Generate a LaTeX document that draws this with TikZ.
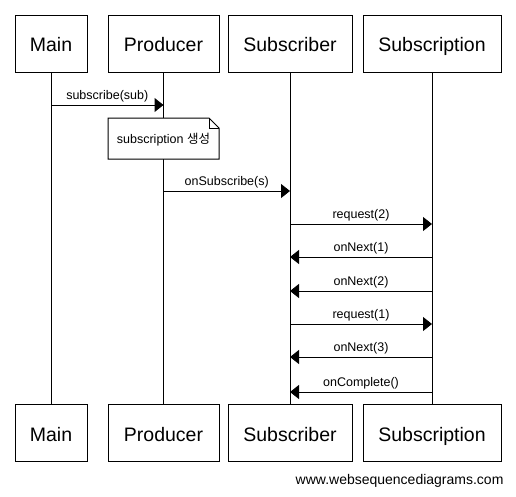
\documentclass[tikz,border=0pt]{standalone}
\usepackage{fontspec}
\setmainfont{Liberation Sans}
\newfontfamily\krfont{Noto Sans CJK KR}
\usetikzlibrary{arrows.meta}

\tikzset{
  actor/.style={draw, line width=1pt, minimum height=57pt, inner sep=0pt,
    text height=20pt, text depth=4pt, font=\fontsize{19.5}{22}\selectfont},
  lifeline/.style={line width=1pt},
  msg/.style={line width=1pt, -{Triangle[length=9pt,width=14pt]}},
  msglabel/.style={font=\fontsize{12.5}{14}\selectfont, inner sep=1pt, above=1pt},
}

\begin{document}
\begin{tikzpicture}[x=1pt, y=-1pt]
\useasboundingbox (0,0) rectangle (516,496);
% participants, top and bottom
\node[actor, minimum width=72pt]  (mainT) at (51,43.5)    {Main};
\node[actor, minimum width=111pt] (prodT) at (163.5,43.5) {Producer};
\node[actor, minimum width=124pt] (subT)  at (290,43.5)   {Subscriber};
\node[actor, minimum width=138pt] (subnT) at (432,43.5)   {Subscription};
\node[actor, minimum width=72pt]  (mainB) at (51,433)     {Main};
\node[actor, minimum width=111pt] (prodB) at (163.5,433)  {Producer};
\node[actor, minimum width=124pt] (subB)  at (290,433)    {Subscriber};
\node[actor, minimum width=138pt] (subnB) at (432,433)    {Subscription};
% lifelines
\draw[lifeline] (mainT) -- (mainB);
\draw[lifeline] (prodT) -- (prodB);
\draw[lifeline] (subT) -- (subB);
\draw[lifeline] (subnT) -- (subnB);
% note
\draw[line width=1pt, fill=white] (108,118) -- (209,118) -- (219,128) -- (219,159) -- (108,159) -- cycle;
\draw[line width=1pt] (209,118) -- (209,128) -- (219,128);
\node[font=\fontsize{12.5}{14}\selectfont] (note) at (163.5,139.5) {subscription {\krfont 생성}};
% messages
\draw[msg] (mainT |- 0,105) -- node[msglabel]{subscribe(sub)} (prodT |- 0,105);
\draw[msg] (prodT |- 0,191) -- node[msglabel]{onSubscribe(s)} (subT |- 0,191);
\draw[msg] (subT |- 0,224) -- node[msglabel]{request(2)} (subnT |- 0,224);
\draw[msg] (subnT |- 0,257) -- node[msglabel]{onNext(1)} (subT |- 0,257);
\draw[msg] (subnT |- 0,291) -- node[msglabel]{onNext(2)} (subT |- 0,291);
\draw[msg] (subT |- 0,324) -- node[msglabel]{request(1)} (subnT |- 0,324);
\draw[msg] (subnT |- 0,357) -- node[msglabel]{onNext(3)} (subT |- 0,357);
\draw[msg] (subnT |- 0,392) -- node[msglabel]{onComplete()} (subT |- 0,392);
% footer
\node[anchor=east, font=\fontsize{14}{16}\selectfont] (site) at (507,481) {www.websequencediagrams.com};
\end{tikzpicture}
\end{document}
